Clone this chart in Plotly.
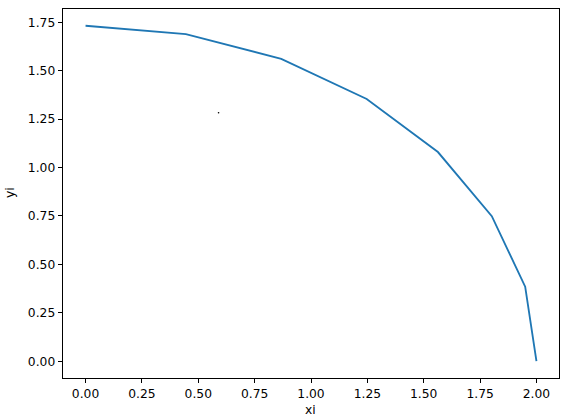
import plotly.graph_objects as go

xi = [0.0, 0.445, 0.868, 1.247, 1.563, 1.802, 1.950, 2.0]
yi = [1.732, 1.689, 1.561, 1.354, 1.080, 0.749, 0.385, 0.0]
dot_x = [0.59]
dot_y = [1.283]

x_ticks = [0.0, 0.25, 0.5, 0.75, 1.0, 1.25, 1.5, 1.75, 2.0]
y_ticks = [0.0, 0.25, 0.5, 0.75, 1.0, 1.25, 1.5, 1.75]

fig = go.Figure()
fig.add_trace(go.Scatter(x=xi, y=yi, mode="lines",
                         line=dict(color="#1f77b4", width=1.85),
                         showlegend=False, hoverinfo="skip"))
fig.add_trace(go.Scatter(x=dot_x, y=dot_y, mode="markers",
                         marker=dict(color="black", size=1.6, line=dict(width=0)),
                         showlegend=False, hoverinfo="skip"))

font = dict(family="DejaVu Sans", size=12.3, color="black")
axis_common = dict(showgrid=False, zeroline=False, showline=True, linecolor="black",
                   linewidth=1, mirror=True, ticks="outside", ticklen=4.3,
                   tickwidth=1, tickcolor="black", tickfont=font, automargin=False)

W, H = 568, 420
L, R, T, B = 63, 9, 9, 42
pw, ph = W - L - R, H - T - B

fig.update_layout(
    width=W, height=H,
    margin=dict(l=L, r=R, t=T, b=B, autoexpand=False),
    paper_bgcolor="white", plot_bgcolor="white",
    font=font,
    xaxis=dict(range=[-0.1, 2.1], tickvals=x_ticks,
               ticktext=[f"{v:.2f}" for v in x_ticks], **axis_common),
    yaxis=dict(range=[-0.0866, 1.8186], tickvals=y_ticks,
               ticktext=[f"{v:.2f}" for v in y_ticks], **axis_common),
    annotations=[
        dict(text="xi", xref="paper", yref="paper", showarrow=False, font=font,
             x=(310 - L) / pw, y=-(410 - (H - B)) / ph,
             xanchor="center", yanchor="middle"),
        dict(text="yi", xref="paper", yref="paper", showarrow=False, font=font,
             textangle=-90, x=-(L - 10) / pw, y=(H - B - 193) / ph,
             xanchor="center", yanchor="middle"),
    ],
)

fig.write_html("out.html",
               config={"displayModeBar": False, "staticPlot": True},
               post_script="document.body.style.margin='0px';document.body.style.overflow='hidden';")
